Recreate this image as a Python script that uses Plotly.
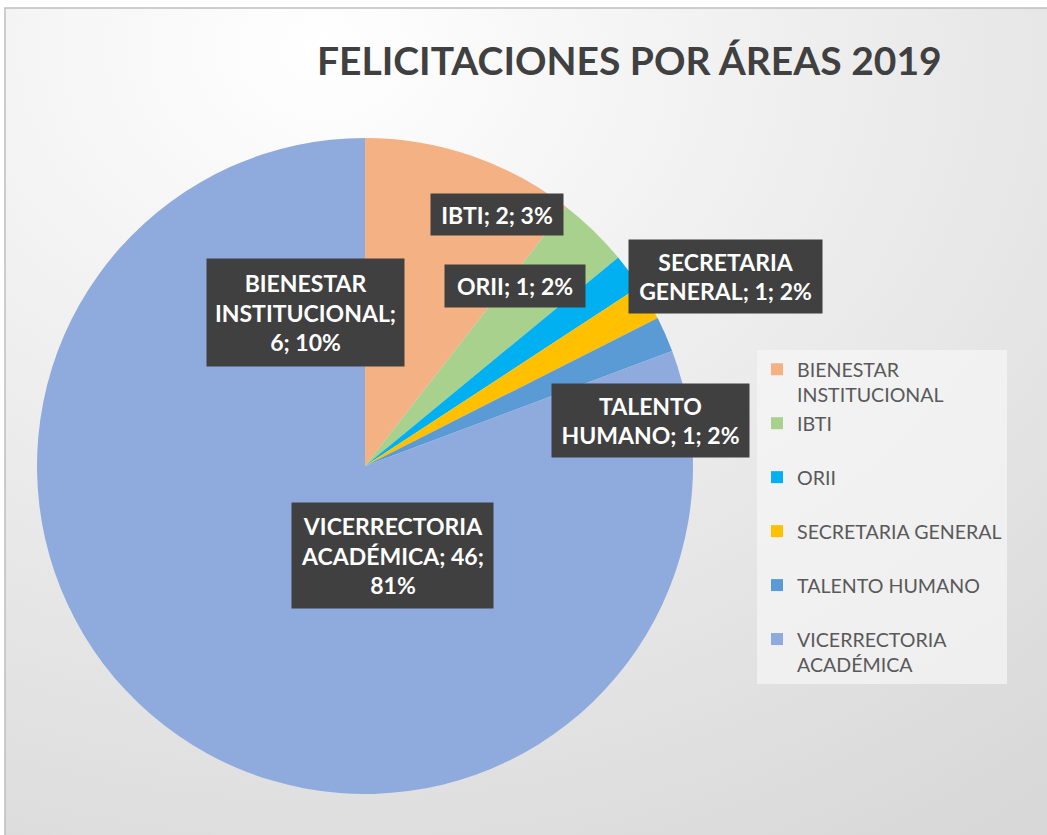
import plotly.graph_objects as go

# ---- data ----
areas = ["BIENESTAR INSTITUCIONAL", "IBTI", "ORII", "SECRETARIA GENERAL",
         "TALENTO HUMANO", "VICERRECTORIA ACADÉMICA"]
counts = [6, 2, 1, 1, 1, 46]
pct_labels = ["10%", "3%", "2%", "2%", "2%", "81%"]
colors = ["#F4B183", "#A9D18E", "#00B0F0", "#FFC000", "#5B9BD5", "#8FAADC"]
title_text = "FELICITACIONES POR ÁREAS 2019"

# ---- layout/style helpers ----
W, H = 1047, 835
FONT = "Lato"

# how each data label is wrapped (style), built from data lists
label_wrap = [
    "BIENESTAR<br>INSTITUCIONAL;<br>{v}; {p}",
    "IBTI; {v}; {p}",
    "ORII; {v}; {p}",
    "SECRETARIA<br>GENERAL; {v}; {p}",
    "TALENTO<br>HUMANO; {v}; {p}",
    "VICERRECTORIA<br>ACADÉMICA; {v};<br>{p}",
]
# label box placement in pixels: (center x, center y, width, height)
label_boxes = [
    (305, 312, 197, 107),
    (497, 215, 132, 41),
    (515, 286, 140, 42),
    (725, 276, 193, 73),
    (650, 420, 197, 73),
    (392, 555, 201, 105),
]
legend_names = [
    "BIENESTAR<br>INSTITUCIONAL",
    "IBTI<br>\u00a0",
    "ORII<br>\u00a0",
    "SECRETARIA GENERAL<br>\u00a0",
    "TALENTO HUMANO<br>\u00a0",
    "VICERRECTORIA<br>ACADÉMICA",
]

cx, cy, r = 365, 466, 328

fig = go.Figure()
fig.add_trace(go.Pie(
    labels=legend_names,
    values=counts,
    marker=dict(colors=colors, line=dict(width=0)),
    sort=False,
    direction="clockwise",
    rotation=0,
    textinfo="none",
    hoverinfo="label+value+percent",
    domain=dict(x=[(cx - r) / W, (cx + r) / W],
                y=[1 - (cy + r) / H, 1 - (cy - r) / H]),
))

annotations = []
for name, v, p, tpl, box in zip(areas, counts, pct_labels, label_wrap, label_boxes):
    bx, by, bw, bh = box
    annotations.append(dict(
        text="<b>" + tpl.format(v=v, p=p) + "</b>",
        x=bx / W, y=1 - by / H, xref="paper", yref="paper",
        xanchor="center", yanchor="middle",
        showarrow=False, width=bw, height=bh, borderpad=0,
        bgcolor="#404040", align="center", valign="middle",
        font=dict(family=FONT, size=23, color="white"),
    ))

annotations.append(dict(
    text="<b>" + title_text + "</b>",
    x=629 / W, y=1 - 60 / H, xref="paper", yref="paper",
    xanchor="center", yanchor="middle", showarrow=False,
    font=dict(family=FONT, size=39, color="#404040"),
))

bg_svg = (
    "data:image/svg+xml;utf8,"
    "<svg xmlns='http://www.w3.org/2000/svg' width='1047' height='835'>"
    "<defs><radialGradient id='g' cx='0.3' cy='0.05' r='1.1'>"
    "<stop offset='0' stop-color='%23ffffff'/>"
    "<stop offset='0.35' stop-color='%23f1f1f1'/>"
    "<stop offset='1' stop-color='%23d8d8d8'/>"
    "</radialGradient></defs>"
    "<rect x='0' y='0' width='1047' height='835' fill='white'/>"
    "<rect x='5' y='8' width='1060' height='850' fill='url(%23g)' "
    "stroke='%23bfbfbf' stroke-width='1.5'/>"
    "</svg>"
)

fig.update_layout(
    width=W, height=H,
    margin=dict(l=0, r=0, t=0, b=0),
    paper_bgcolor="white",
    plot_bgcolor="rgba(0,0,0,0)",
    showlegend=True,
    legend=dict(
        x=757 / W, y=1 - 350 / H, xanchor="left", yanchor="top",
        bgcolor="rgba(246,246,246,0.7)",
        font=dict(family=FONT, size=19.6, color="#595959"),
        valign="top", tracegroupgap=0,
    ),
    annotations=annotations,
    images=[dict(source=bg_svg, xref="paper", yref="paper", x=0, y=1,
                 sizex=1, sizey=1, xanchor="left", yanchor="top",
                 sizing="stretch", layer="below")],
)

fig.write_html("out.html", config={"displayModeBar": False})

# remove the default page margin so the figure sits at the window origin
with open("out.html", "r", encoding="utf-8") as f:
    html = f.read()
html = html.replace("<head>", "<head><style>html,body{margin:0;padding:0;overflow:hidden}</style>", 1)
with open("out.html", "w", encoding="utf-8") as f:
    f.write(html)
